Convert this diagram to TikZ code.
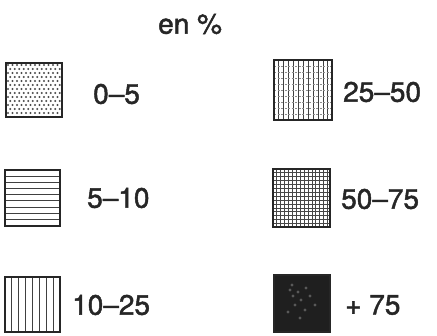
\documentclass[tikz,border=0pt]{standalone}
\usepackage{fontspec}
\setmainfont{TeX Gyre Heros}
\newfontfamily\lblfont[FakeBold=1.6,Ligatures=TeX]{TeX Gyre Heros}
\begin{document}
\begin{tikzpicture}[x=1pt,y=-1pt,
  box/.style={draw=black!85,line width=1.5pt,inner sep=0pt},
  lbl/.style={anchor=west,inner sep=0pt,font=\lblfont\fontsize{28}{30}\selectfont,text=black!85},
  hatch/.style={line width=1pt,draw=black!75}]
\useasboundingbox[fill=white] (0,0) rectangle (437,336);

% 0-5 : dots
\begin{scope}
\clip (6,63) rectangle (62,117);
\foreach \i in {0,...,12}
  \foreach \j in {0,...,13}
    \fill[black!70] ({8+\i*4.5+mod(\j,2)*2.25},{65+\j*4}) circle (1.05);
\end{scope}
\node[box,minimum width=56pt,minimum height=54pt] (b1) at (34,90) {};

% 25-50 : vertical lines + light dotted horizontals
\begin{scope}
\clip (274,60) rectangle (332,120);
\foreach \k in {1,...,11}
  \draw[hatch] ({274+\k*4.9},60) -- ({274+\k*4.9},120);
\foreach \k in {1,...,9}
  \draw[black!45,line width=0.7pt,dash pattern=on 2pt off 1.5pt] (274,{60+\k*6}) -- (332,{60+\k*6});
\end{scope}
\node[box,minimum width=58pt,minimum height=60pt] (b2) at (303,90) {};

% 5-10 : horizontal lines
\begin{scope}
\clip (5,170) rectangle (60,226);
\foreach \k in {1,...,8}
  \draw[hatch] (5,{170+\k*6.2}) -- (60,{170+\k*6.2});
\end{scope}
\node[box,minimum width=55pt,minimum height=56pt] (b3) at (32.5,198) {};

% 50-75 : fine grid
\begin{scope}
\clip (273,169) rectangle (330,227);
\foreach \k in {1,...,14}
  \draw[black!72,line width=0.9pt] ({273+\k*3.9},169) -- ({273+\k*3.9},227);
\foreach \k in {1,...,14}
  \draw[black!72,line width=0.9pt] (273,{169+\k*3.9}) -- (330,{169+\k*3.9});
\end{scope}
\node[box,minimum width=57pt,minimum height=58pt] (b4) at (301.5,198) {};

% 10-25 : vertical lines
\begin{scope}
\clip (5,277) rectangle (60,332);
\foreach \k in {1,...,7}
  \draw[hatch] ({5+\k*6.9},277) -- ({5+\k*6.9},332);
\end{scope}
\node[box,minimum width=55pt,minimum height=55pt] (b5) at (32.5,304.5) {};

% +75 : dark fill
\fill[black!88] (274,275) rectangle (330,332);
\foreach \p in {(290,290),(293,296),(298,292),(301,300),(295,305),(305,310),(288,312),(310,296),(300,318),(315,305),(292,285),(306,288)}
  \fill[black!65] \p circle (1.6);
\node[box,minimum width=56pt,minimum height=57pt] (b6) at (302,303.5) {};

% labels
\node[lbl] (t0) at (158,24) {en \%};
\node[lbl] (t1) at (93,94) {0--5};
\node[lbl] (t2) at (343,92) {25--50};
\node[lbl] (t3) at (87,198) {5--10};
\node[lbl] (t4) at (341,199) {50--75};
\node[lbl] (t5) at (72,305) {10--25};
\node[lbl] (t6) at (345,305) {+ 75};
\end{tikzpicture}
\end{document}
